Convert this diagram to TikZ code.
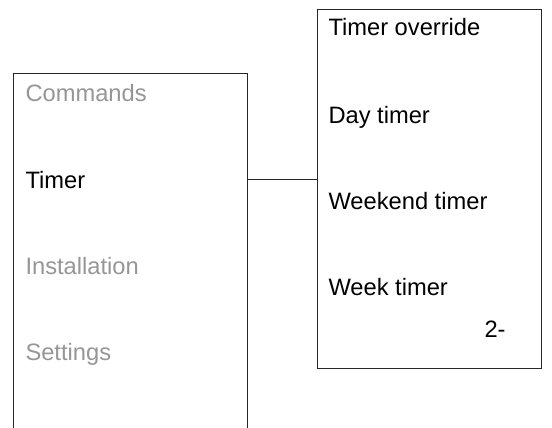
\documentclass[tikz,border=0pt]{standalone}
\usepackage{fontspec}
\setmainfont{Liberation Sans}
\usepackage{tikz}
\usetikzlibrary{positioning}
\definecolor{dimtext}{RGB}{150,150,150}

\begin{document}
\begin{tikzpicture}[x=1pt, y=-1pt, line width=1pt,
  every node/.style={font=\fontsize{23.7}{28}\selectfont, inner sep=0pt},
  entry/.style={anchor=base west},
  off/.style={entry, text=dimtext},
  panel/.style={draw=black!85, anchor=north west}]
\useasboundingbox (0,0) rectangle (552,428);
\clip (0,0) rectangle (552,428);
\node[panel, minimum width=234pt, minimum height=420pt] (menu) at (12.5,73.5) {};
\node[panel, minimum width=224pt, minimum height=358pt] (submenu) at (317,9.5) {};
\node[off] (cmd) at (25,102) {Commands};
\node[entry] (tmr) at (25,188) {Timer};
\node[off] (inst) at (25,274) {Installation};
\node[off] (sett) at (25,360) {Settings};
\node[entry] (ovr) at (328,36) {Timer override};
\node[entry] (day) at (328,123) {Day timer};
\node[entry] (wknd) at (328,209) {Weekend timer};
\node[entry] (week) at (328,295) {Week timer};
\node[entry] (pg) at (484,337) {2-};
\draw[black!85] (menu.east |- tmr.center) -- (submenu.west |- tmr.center);
\end{tikzpicture}
\end{document}
